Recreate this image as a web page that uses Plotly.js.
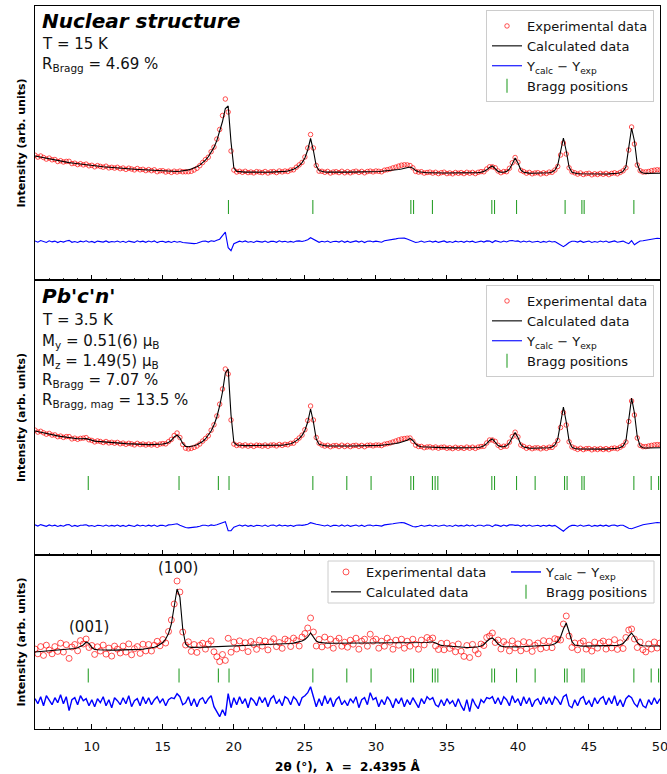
<!DOCTYPE html>
<html><head><meta charset="utf-8">
<script src="https://cdn.plot.ly/plotly-3.0.1.min.js"></script>
<style>body{margin:0;padding:0;background:#fff}#chart{width:667px;height:774px}</style>
</head><body><div id="chart"></div>
<script>
// 2θ grid (degrees)
const twoTheta = [
6.0,6.2,6.4,6.6,6.8,7.0,7.2,7.4,7.6,7.8,
8.0,8.2,8.4,8.6,8.8,9.0,9.2,9.4,9.6,9.8,
10.0,10.2,10.4,10.6,10.8,11.0,11.2,11.4,11.6,11.8,
12.0,12.2,12.4,12.6,12.8,13.0,13.2,13.4,13.6,13.8,
14.0,14.2,14.4,14.6,14.8,15.0,15.2,15.4,15.6,15.8,
16.0,16.2,16.4,16.6,16.8,17.0,17.2,17.4,17.6,17.8,
18.0,18.2,18.4,18.6,18.8,19.0,19.2,19.4,19.6,19.8,
20.0,20.2,20.4,20.6,20.8,21.0,21.2,21.4,21.6,21.8,
22.0,22.2,22.4,22.6,22.8,23.0,23.2,23.4,23.6,23.8,
24.0,24.2,24.4,24.6,24.8,25.0,25.2,25.4,25.6,25.8,
26.0,26.2,26.4,26.6,26.8,27.0,27.2,27.4,27.6,27.8,
28.0,28.2,28.4,28.6,28.8,29.0,29.2,29.4,29.6,29.8,
30.0,30.2,30.4,30.6,30.8,31.0,31.2,31.4,31.6,31.8,
32.0,32.2,32.4,32.6,32.8,33.0,33.2,33.4,33.6,33.8,
34.0,34.2,34.4,34.6,34.8,35.0,35.2,35.4,35.6,35.8,
36.0,36.2,36.4,36.6,36.8,37.0,37.2,37.4,37.6,37.8,
38.0,38.2,38.4,38.6,38.8,39.0,39.2,39.4,39.6,39.8,
40.0,40.2,40.4,40.6,40.8,41.0,41.2,41.4,41.6,41.8,
42.0,42.2,42.4,42.6,42.8,43.0,43.2,43.4,43.6,43.8,
44.0,44.2,44.4,44.6,44.8,45.0,45.2,45.4,45.6,45.8,
46.0,46.2,46.4,46.6,46.8,47.0,47.2,47.4,47.6,47.8,
48.0,48.2,48.4,48.6,48.8,49.0,49.2,49.4,49.6,49.8,
50.0];

// Panel 1: nuclear structure, T = 15 K
const calcNuclear = [
124.0,123.4,122.8,122.2,121.6,121.0,120.4,119.9,119.4,118.9,
118.4,117.9,117.4,117.0,116.6,116.2,115.8,115.4,115.0,114.7,
114.4,114.1,113.8,113.5,113.2,113.0,112.7,112.5,112.2,112.0,
111.8,111.6,111.4,111.2,111.0,110.8,110.6,110.4,110.2,110.0,
109.8,109.6,109.4,109.2,109.0,108.8,108.6,108.5,108.4,108.4,
108.5,108.7,109.0,109.5,110.1,110.9,111.9,113.2,114.9,117.0,
119.8,123.2,127.4,132.6,139.4,148.0,158.5,171.5,174.0,138.0,
112.0,108.6,108.2,108.0,107.9,107.9,107.8,107.8,107.8,107.8,
107.8,107.8,107.8,107.9,107.9,108.0,108.1,108.3,108.6,109.0,
109.7,110.7,112.2,114.3,117.4,122.0,130.0,141.5,129.5,114.0,
109.4,108.3,108.0,107.9,107.8,107.8,107.8,107.8,107.8,107.8,
107.9,107.9,107.9,108.0,108.0,108.0,108.1,108.1,108.2,108.3,
108.4,108.5,108.7,108.9,109.1,109.4,109.7,110.1,110.5,111.0,
111.6,112.3,113.0,111.8,109.4,108.2,107.7,107.4,107.3,107.2,
107.3,107.2,107.1,107.0,107.0,107.0,107.0,107.0,107.0,107.0,
107.0,107.0,107.0,107.0,107.1,107.2,107.4,107.8,108.6,110.2,
112.6,114.0,111.2,108.6,107.8,107.8,108.6,110.8,116.0,122.0,
117.0,110.2,107.8,107.1,106.9,106.8,106.8,106.8,106.8,106.9,
107.0,107.3,108.0,109.8,115.0,128.0,142.0,129.0,113.0,107.8,
106.7,106.3,106.2,106.1,106.0,106.0,106.0,106.0,106.0,106.0,
106.0,106.0,106.1,106.2,106.4,106.7,107.3,108.6,113.0,132.0,
152.0,139.0,116.0,108.6,107.0,106.6,106.5,106.5,106.6,106.7,
106.8];
// residual curve as plotted (Y_exp − Y_calc)
const residNuclear = [
0.8,-0.5,1.2,0.3,-0.7,0.9,-0.2,0.6,-0.9,0.4,
-0.4,0.7,1.3,-0.6,0.2,-0.8,0.5,-0.3,0.9,-0.5,
0.3,-0.9,0.6,0.1,-0.4,0.8,-0.6,0.2,-0.3,0.7,
-0.5,0.4,-0.8,0.6,0.0,-0.7,0.9,-0.2,0.5,-0.6,
0.6,-0.3,0.8,-0.9,0.2,0.5,-0.6,0.3,-0.8,0.4,
-0.5,0.2,-0.8,-1.2,-1.8,-2.2,-1.9,-1.5,-0.6,0.5,
0.6,-0.4,0.9,0.3,1.5,2.5,6.0,9.5,-6.0,-9.0,
-2.0,-0.6,0.5,-0.3,0.8,-0.5,0.2,-0.7,0.6,0.1,
-0.4,0.7,-0.8,0.3,0.5,-0.6,0.9,-0.2,0.4,-0.5,
0.3,-0.5,0.6,0.8,0.2,1.0,2.0,4.0,2.5,0.5,
-0.6,0.4,-0.3,0.7,-0.8,0.2,0.5,-0.4,0.9,-0.6,
0.5,-0.7,0.3,0.8,-0.4,0.6,-0.9,0.4,0.7,-0.2,
0.6,0.2,-0.5,0.9,1.2,1.6,2.4,2.8,3.4,3.8,
3.6,2.8,1.5,0.4,-0.8,-0.3,0.6,-0.5,0.2,0.7,
-0.4,0.5,-0.7,0.3,0.8,-0.6,0.1,-0.8,0.5,-0.3,
0.4,-0.6,0.7,-0.2,0.5,-0.8,0.3,0.6,-0.4,0.8,
0.6,-0.8,1.0,0.4,-0.5,0.7,-0.3,0.9,1.2,0.5,
0.8,-0.5,0.6,-0.3,0.7,-0.6,0.2,0.5,-0.7,0.3,
-0.5,0.6,-0.3,0.2,-1.5,-3.0,-5.0,-3.0,-0.8,0.4,
0.5,-0.4,0.8,-0.6,0.3,0.7,-0.8,0.2,-0.5,0.6,
-0.3,0.6,-0.7,0.4,0.8,-0.5,0.3,0.6,-0.8,-2.0,
1.0,-3.0,-1.0,0.7,1.0,1.5,2.0,2.8,3.2,3.5,
3.2];
const braggNuclear = [19.62,25.56,32.46,32.65,33.98,38.16,38.35,39.90,43.32,44.50,44.66,48.16];

// Panel 2: Pb'c'n', T = 3.5 K
const calcMagnetic = [
124.0,123.3,122.6,122.0,121.4,120.8,120.2,119.6,119.1,118.6,
118.1,117.6,117.2,116.8,116.5,116.3,116.2,116.3,116.4,115.6,
114.4,113.9,113.6,113.3,113.0,112.8,112.6,112.4,112.2,112.0,
111.8,111.6,111.4,111.2,111.0,110.9,110.8,110.7,110.6,110.5,
110.4,110.4,110.4,110.5,110.7,111.0,111.6,112.6,114.6,118.0,
120.0,117.0,111.5,108.6,108.3,108.6,109.2,110.2,111.6,113.5,
116.0,119.5,124.0,130.0,138.0,149.0,163.0,182.0,186.0,140.0,
112.5,110.0,109.6,109.5,109.4,109.4,109.4,109.4,109.4,109.4,
109.4,109.4,109.4,109.5,109.5,109.6,109.7,109.9,110.2,110.6,
111.3,112.4,114.0,116.3,119.6,124.5,133.0,146.0,133.0,116.0,
110.8,109.6,109.2,109.1,109.0,109.0,109.0,109.0,109.0,109.0,
109.0,109.0,109.0,109.0,109.1,109.1,109.1,109.2,109.3,109.4,
109.5,109.6,109.8,110.0,110.3,110.6,111.0,111.5,112.1,112.8,
113.6,114.8,116.5,114.5,111.0,109.0,108.2,107.9,107.7,107.6,
107.7,107.6,107.4,107.3,107.2,107.2,107.1,107.1,107.1,107.1,
107.1,107.1,107.1,107.1,107.2,107.3,107.5,108.0,109.2,111.4,
114.5,116.0,112.8,109.4,108.2,108.2,109.2,112.0,117.5,122.5,
117.5,110.6,107.9,107.1,106.9,106.8,106.8,106.8,106.8,106.9,
107.0,107.3,108.0,110.0,116.0,131.0,148.0,133.0,114.0,107.8,
106.5,106.1,106.0,105.9,105.9,105.9,105.9,105.9,105.9,105.9,
105.9,105.9,106.0,106.1,106.3,106.7,107.4,109.0,114.0,136.0,
157.0,142.0,118.0,109.0,107.3,107.0,107.0,107.0,107.1,107.2,
107.3];
const residMagnetic = [
0.9,-0.4,1.1,0.2,-0.6,0.8,-0.3,0.5,-0.8,0.3,
-0.5,0.8,1.2,-0.7,0.3,-0.6,0.4,0.6,1.0,-0.4,
0.2,-0.8,0.5,0.2,-0.5,0.7,-0.5,0.3,-0.4,0.6,
-0.6,0.3,-0.7,0.5,0.1,-0.8,0.8,-0.3,0.4,-0.5,
0.5,-0.4,0.7,-0.8,0.3,0.4,-0.5,0.8,1.0,1.5,
2.0,0.5,-1.0,-1.8,-2.2,-2.0,-1.6,-1.2,-0.6,0.4,
0.5,-0.3,0.8,0.2,1.0,1.8,3.0,4.0,-5.0,-5.0,
-1.5,-0.5,0.6,-0.4,0.7,-0.6,0.3,-0.8,0.5,0.2,
-0.5,0.6,-0.7,0.4,0.6,-0.5,0.8,-0.3,0.5,-0.4,
0.4,-0.6,0.5,0.7,0.3,0.8,1.5,3.0,2.0,1.5,
1.0,0.4,-0.3,0.6,-0.7,0.3,0.5,-0.5,0.8,-0.5,
0.6,-0.6,0.4,0.7,-0.5,0.5,-0.8,0.5,0.6,-0.3,
0.5,0.3,-0.4,0.8,1.0,1.4,2.0,2.5,3.0,3.2,
2.8,2.0,0.5,-0.8,-1.2,-0.5,0.4,-0.6,0.3,0.6,
-0.5,0.4,-0.6,0.4,0.7,-0.5,0.2,-0.7,0.6,-0.4,
0.3,-0.5,0.8,-0.3,0.6,-0.7,0.4,0.5,-0.5,0.6,
0.5,-1.0,0.8,0.3,-0.6,0.6,-0.4,0.8,1.0,0.3,
0.6,-0.6,0.7,-0.4,0.6,-0.5,0.3,0.4,-0.6,0.4,
-0.4,0.5,-0.4,0.3,-1.5,-3.5,-5.5,-3.0,-0.8,0.3,
0.4,-0.5,0.7,-0.5,0.4,0.6,-0.7,0.3,-0.4,0.5,
-0.4,0.5,-0.6,0.5,0.7,-0.4,0.4,0.5,-1.0,-2.5,
-3.0,-2.0,-1.0,0.6,1.0,1.4,2.0,2.6,3.0,3.2,
3.0];
const braggMagnetic = [9.75,16.14,18.91,19.66,25.56,27.95,29.66,32.46,32.65,33.98,34.17,34.36,
  38.16,38.35,39.90,41.21,43.28,43.46,44.50,44.66,48.16,49.38,49.90];

// Panel 3: magnetic-only pattern
const calcMagOnly = [
77.0,77.2,77.4,77.6,77.8,78.0,78.2,78.4,78.6,78.8,
79.0,79.3,79.6,80.0,80.5,81.2,82.4,84.0,87.0,85.5,
81.5,79.6,79.2,79.0,78.9,78.9,78.9,78.9,78.9,78.9,
79.0,79.0,79.0,79.1,79.2,79.3,79.4,79.6,79.8,80.1,
80.5,81.0,81.7,82.7,84.2,86.5,90.0,95.5,105.0,122.0,
140.0,132.0,100.0,85.0,82.2,81.6,81.5,81.6,81.7,81.8,
81.9,82.0,82.1,82.2,82.3,82.4,82.5,82.6,82.7,82.8,
82.9,83.0,83.1,83.2,83.3,83.4,83.5,83.6,83.7,83.8,
83.9,84.0,84.1,84.2,84.3,84.4,84.5,84.7,84.9,85.2,
85.5,85.9,86.4,87.0,88.0,89.5,92.0,96.0,92.0,88.0,
86.6,86.1,85.9,85.8,85.8,85.8,85.8,85.8,85.8,85.8,
85.8,85.8,85.8,85.8,85.8,85.8,85.8,85.8,85.8,85.8,
85.8,85.8,85.8,85.8,85.8,85.8,85.8,85.8,85.8,85.8,
85.8,85.8,85.8,85.8,85.8,85.8,85.9,86.1,86.5,87.0,
87.0,86.0,84.5,83.6,83.2,82.9,82.6,82.4,82.2,82.0,
81.8,81.6,81.5,81.5,81.6,81.8,82.2,83.0,84.5,87.5,
90.0,91.0,88.5,85.0,83.0,82.4,82.2,82.1,82.1,82.1,
82.1,82.2,82.3,82.4,82.5,82.6,82.7,82.9,83.1,83.3,
83.5,83.8,84.3,85.3,87.5,92.0,100.0,106.0,97.0,87.5,
84.0,83.2,83.0,82.9,82.9,82.9,82.9,82.9,82.9,82.9,
82.9,82.9,83.0,83.1,83.3,83.6,84.2,85.5,88.5,93.0,
96.0,92.0,86.5,84.0,83.3,83.1,83.0,83.0,83.0,83.0,
83.0];
const residMagOnly = [
3,-2,5,-4,6,1,-3,4,-1,7,
-2,5,-9,2,4,-3,6,1,3,-4,
2,-5,3,-1,5,-4,2,-6,4,1,
-3,4,-2,6,-5,1,3,-4,5,-2,
4,-3,2,5,-1,3,-4,2,4,3,
8,5,-3,-1,5,-4,3,-5,2,4,
-2,3,6,-5,-10,-15,-8,-14,8,-6,
4,-3,5,-2,3,-6,4,1,-4,5,
-1,4,-5,3,6,-2,2,-4,5,3,
-3,5,2,-4,4,6,9,15,5,-5,
3,-4,6,-2,4,-5,2,5,-3,1,
-4,3,-1,5,-6,2,4,-3,9,2,
4,-5,2,-3,5,1,-6,3,-2,4,
-5,2,-3,4,-1,-6,3,-2,5,2,
4,-3,-5,2,-4,3,-2,1,-5,3,
-4,-9,2,-10,3,-3,-7,2,-1,4,
3,5,-2,4,-3,5,2,-4,6,-1,
3,-4,5,-2,4,-5,1,3,-3,5,
-2,4,-3,5,2,-3,5,7,-4,-6,
2,-4,3,5,-3,1,-5,4,-2,3,
5,-3,4,-2,6,-4,2,-5,3,6,
4,-2,-5,3,-4,-6,2,-3,4,-2,
3];

const tickValues = [10,15,20,25,30,35,40,45,50];
const tickLabels = ['10','15','20','25','30','35','40','45','50'];
const legendLabels = ['Experimental data','Calculated data','Y<sub>calc</sub> \u2212 Y<sub>exp</sub>','Bragg positions'];

// ---------- geometry helpers (pixels -> paper) ----------
const PL=35, PR=660, PT=6, PB=729;
const px = v => (v-PL)/(PR-PL);
const py = v => (PB-v)/(PB-PT);

function panelTraces(ax, calc, resid, bragg, diffLevel, braggLevel, legExp, legDiff, msize, dwidth){
  const xa = ax==='1' ? 'x' : 'x'+ax, ya = ax==='1' ? 'y' : 'y'+ax;
  const exp = calc.map((c,i)=>c+resid[i]);
  const diff = resid.map(r=>r+diffLevel);
  return [
    {type:'scatter', mode:'markers', x:twoTheta, y:exp, xaxis:xa, yaxis:ya, name:legendLabels[0], legend:legExp,
     marker:{symbol:'circle-open', size:msize, color:'rgba(255,0,0,0.85)', line:{width:0.8, color:'rgba(255,0,0,0.85)'}}},
    {type:'scatter', mode:'lines', x:twoTheta, y:calc, xaxis:xa, yaxis:ya, name:legendLabels[1], legend:legExp,
     line:{color:'#000', width:1.1}},
    {type:'scatter', mode:'lines', x:twoTheta, y:diff, xaxis:xa, yaxis:ya, name:legendLabels[2], legend:legDiff,
     line:{color:'#0000ff', width:dwidth}},
    {type:'scatter', mode:'markers', x:bragg, y:bragg.map(()=>braggLevel), xaxis:xa, yaxis:ya, name:legendLabels[3], legend:legDiff,
     marker:{symbol:'line-ns-open', size:10, color:'#2ca02c', line:{width:1.1, color:'#2ca02c'}}}
  ];
}

const data = [].concat(
  panelTraces('1', calcNuclear, residNuclear, braggNuclear, 38.3, 73, 'legend', 'legend', 4.5, 1.1),
  panelTraces('2', calcMagnetic, residMagnetic, braggMagnetic, 29.3, 72, 'legend2', 'legend2', 4.5, 1.1),
  panelTraces('3', calcMagOnly, residMagOnly, braggMagnetic, 27.3, 53.5, 'legend3', 'legend4', 6, 1.4)
);

const xCommon = {range:[6,50], showline:true, mirror:true, linecolor:'#000', linewidth:1,
  ticks:'inside', ticklen:5, tickwidth:1, tickcolor:'#000', tickmode:'array', tickvals:tickValues, ticktext:tickLabels,
  ticklabeloverflow:'allow',
  showgrid:false, zeroline:false, fixedrange:true,
  minor:{ticks:'inside', tick0:0, dtick:1, ticklen:2.5, tickwidth:0.8, tickcolor:'#000', showgrid:false}};
const yCommon = {showline:true, mirror:true, linecolor:'#000', linewidth:1, ticks:'', showticklabels:false,
  showgrid:false, zeroline:false, fixedrange:true,
  title:{text:'Intensity (arb. units)', font:{size:11, weight:'bold', color:'#000'}, standoff:6}};

const legFont = {family:'DejaVu Sans', size:13, color:'#111'};
const annFont = {family:'DejaVu Sans', size:15, color:'#111'};
const headFont = {family:'DejaVu Sans', size:20, color:'#000', weight:'bold', style:'italic'};
function ann(text, xPix, yPix, font, xanchor){
  return {text:text, xref:'paper', yref:'paper', x:px(xPix), y:py(yPix), xanchor:xanchor||'left', yanchor:'middle',
    showarrow:false, font:font};
}

const layout = {
  width:667, height:774,
  margin:{l:PL, r:667-PR, t:PT, b:774-PB},
  paper_bgcolor:'#fff', plot_bgcolor:'#fff',
  font:{family:'DejaVu Sans', color:'#000', size:13},
  showlegend:true,
  xaxis: Object.assign({}, xCommon, {anchor:'y', showticklabels:false}),
  xaxis2: Object.assign({}, xCommon, {anchor:'y2', showticklabels:false}),
  xaxis3: Object.assign({}, xCommon, {anchor:'y3', showticklabels:true, tickfont:{size:13, color:'#111'}, ticklabelstandoff:5,
    title:{text:'2\u03b8 (\u00b0),\u00a0 \u03bb\u00a0 =\u00a0 2.4395 \u00c5', font:{size:12, weight:'bold', color:'#000'}, standoff:12}}),
  yaxis: Object.assign({}, yCommon, {domain:[py(280),1], range:[0,274]}),
  yaxis2: Object.assign({}, yCommon, {domain:[py(555),py(280)], range:[0,275]}),
  yaxis3: Object.assign({}, yCommon, {domain:[0,py(555)], range:[0,174]}),
  legend:{x:px(654), xanchor:'right', y:py(10), yanchor:'top', bgcolor:'rgba(255,255,255,0.85)', bordercolor:'#cccccc', borderwidth:1, font:legFont, tracegroupgap:0},
  legend2:{x:px(654), xanchor:'right', y:py(285), yanchor:'top', bgcolor:'rgba(255,255,255,0.85)', bordercolor:'#cccccc', borderwidth:1, font:legFont, tracegroupgap:0},
  legend3:{x:px(326), xanchor:'left', y:py(557), yanchor:'top', bgcolor:'rgba(0,0,0,0)', borderwidth:0, font:legFont, tracegroupgap:0},
  legend4:{x:px(653), xanchor:'right', y:py(557), yanchor:'top', bgcolor:'rgba(0,0,0,0)', borderwidth:0, font:legFont, tracegroupgap:0},
  shapes:[{type:'rect', xref:'paper', yref:'paper', x0:px(328), x1:px(654), y0:py(603), y1:py(561),
    fillcolor:'rgba(255,255,255,0.85)', line:{color:'#cccccc', width:1}, layer:'above'}],
  annotations:[
    ann('Nuclear structure', 40, 21, headFont),
    ann('T = 15 K', 40, 44, annFont),
    ann('R<sub>Bragg</sub> = 4.69 %', 40, 64, annFont),
    ann("Pb'c'n'", 40, 296, headFont),
    ann('T = 3.5 K', 40, 320, annFont),
    ann('M<sub>y</sub> = 0.51(6) \u03bc<sub>B</sub>', 40, 341, annFont),
    ann('M<sub>z</sub> = 1.49(5) \u03bc<sub>B</sub>', 40, 361, annFont),
    ann('R<sub>Bragg</sub> = 7.07 %', 40, 381, annFont),
    ann('R<sub>Bragg, mag</sub> = 13.5 %', 40, 400, annFont),
    ann('(100)', 178, 568, annFont, 'center'),
    ann('(001)', 89, 627, annFont, 'center')
  ]
};

Plotly.newPlot('chart', data, layout, {displayModeBar:false, staticPlot:true});
</script></body></html>
